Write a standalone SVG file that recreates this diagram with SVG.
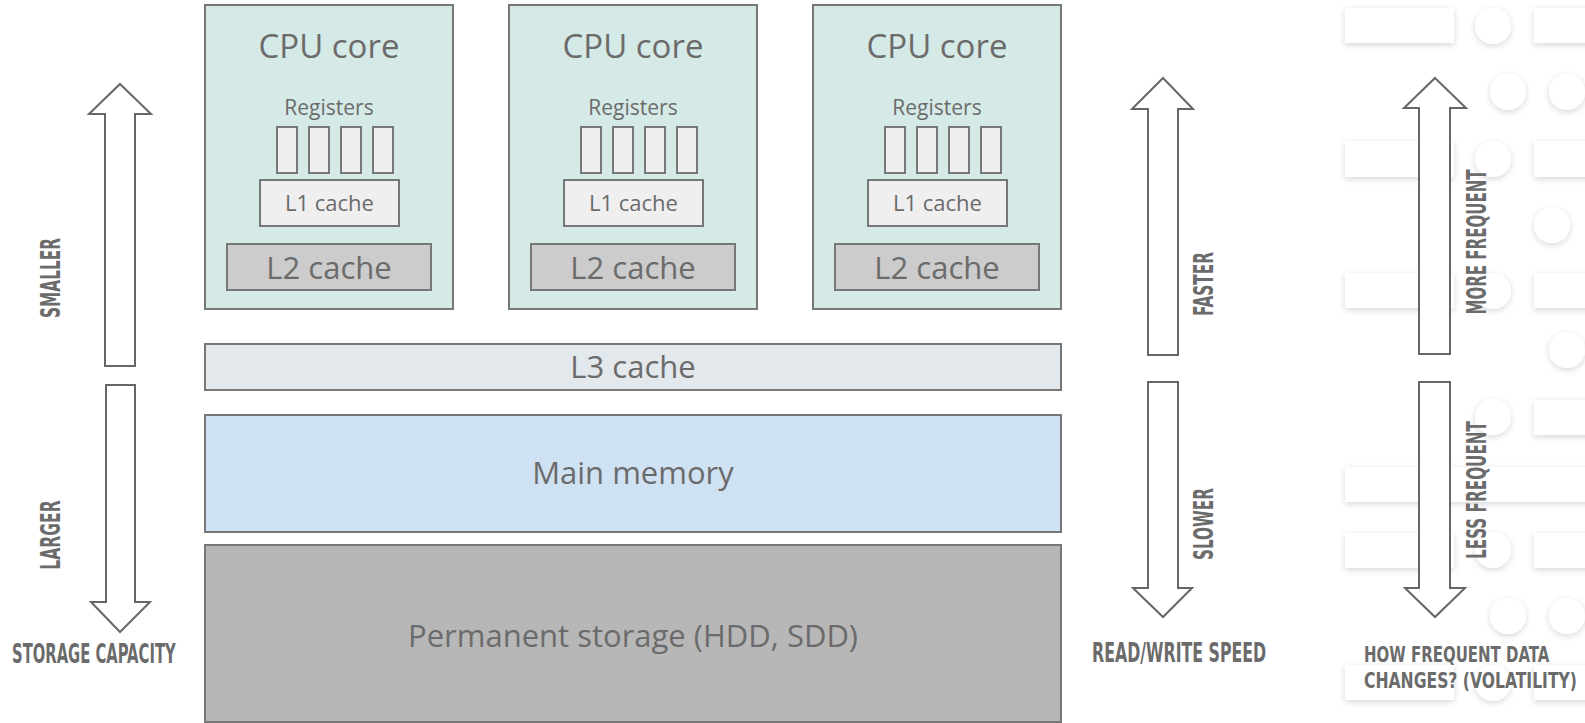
<svg xmlns="http://www.w3.org/2000/svg" width="1585" height="723" viewBox="0 0 1585 723">
  <defs>
    <filter id="soft" x="-30%" y="-60%" width="160%" height="220%">
      <feDropShadow dx="0" dy="2" stdDeviation="3" flood-color="#000" flood-opacity="0.16"/>
    </filter>
    <style>
      .bg { fill: #ffffff; }
      .deco rect, .deco circle { fill: #ffffff; filter: url(#soft); }
      .box { stroke: #777777; stroke-width: 2; }
      .core { fill: #d5e9e6; }
      .reg { fill: #eeeeee; stroke: #777777; stroke-width: 2; }
      .l1 { fill: #efefef; }
      .l2 { fill: #cccccc; }
      .l3 { fill: #e3e8ec; }
      .mem { fill: #cfe2f3; }
      .disk { fill: #b7b7b7; }
      .t { font-family: "Open Sans", "Noto Sans", sans-serif; fill: #6b6b6b; text-anchor: middle; }
      .big { font-size: 33px; }
      .mid { font-size: 31px; }
      .sm { font-size: 21px; }
      .arrow { fill: #ffffff; stroke: #666666; stroke-width: 2; stroke-linejoin: miter; }
      .lab { font-family: "DejaVu Sans Condensed", "DejaVu Sans", sans-serif; font-stretch: condensed; font-weight: bold; font-size: 26px; fill: #6b6b6b; }
      .lab2 { font-size: 22px; }
    </style>
  </defs>

  <rect class="bg" x="0" y="0" width="1585" height="723"/>

  <!-- decorative pattern behind the volatility scale -->
  <g id="pattern" class="deco">
    <rect x="1345" y="8" width="109" height="35"/>
    <circle cx="1493" cy="26" r="18"/>
    <rect x="1534" y="8" width="60" height="35"/>

    <circle cx="1508" cy="92" r="18"/>
    <circle cx="1567" cy="92" r="18"/>

    <rect x="1345" y="141" width="109" height="36"/>
    <circle cx="1493" cy="159" r="18"/>
    <rect x="1534" y="141" width="60" height="36"/>

    <circle cx="1552" cy="225" r="18"/>

    <rect x="1345" y="273" width="109" height="35"/>
    <circle cx="1493" cy="291" r="18"/>
    <rect x="1534" y="273" width="60" height="35"/>

    <circle cx="1567" cy="350" r="18"/>

    <circle cx="1493" cy="417" r="18"/>
    <rect x="1534" y="400" width="60" height="35"/>

    <rect x="1345" y="467" width="250" height="35"/>

    <rect x="1345" y="533" width="109" height="35"/>
    <circle cx="1493" cy="550" r="18"/>
    <rect x="1534" y="533" width="60" height="35"/>

    <circle cx="1508" cy="616" r="18"/>
    <circle cx="1567" cy="616" r="18"/>

    <rect x="1345" y="665" width="109" height="35"/>
    <circle cx="1493" cy="683" r="18"/>
    <rect x="1534" y="665" width="60" height="35"/>

    <circle cx="1560" cy="752" r="18"/>
  </g>

  <!-- CPU cores -->
  <g id="core1">
    <rect class="box core" x="205" y="5" width="248" height="304"/>
    <text class="t big" x="329" y="58">CPU core</text>
    <text class="t sm" x="329" y="115">Registers</text>
    <rect class="reg" x="277" y="127" width="20" height="46"/>
    <rect class="reg" x="309" y="127" width="20" height="46"/>
    <rect class="reg" x="341" y="127" width="20" height="46"/>
    <rect class="reg" x="373" y="127" width="20" height="46"/>
    <rect class="box l1" x="260" y="180" width="139" height="46"/>
    <text class="t sm" x="329.5" y="211" style="font-size:22px">L1 cache</text>
    <rect class="box l2" x="227" y="244" width="204" height="46"/>
    <text class="t mid" x="329" y="279">L2 cache</text>
  </g>

  <g id="core2" transform="translate(304,0)">
    <rect class="box core" x="205" y="5" width="248" height="304"/>
    <text class="t big" x="329" y="58">CPU core</text>
    <text class="t sm" x="329" y="115">Registers</text>
    <rect class="reg" x="277" y="127" width="20" height="46"/>
    <rect class="reg" x="309" y="127" width="20" height="46"/>
    <rect class="reg" x="341" y="127" width="20" height="46"/>
    <rect class="reg" x="373" y="127" width="20" height="46"/>
    <rect class="box l1" x="260" y="180" width="139" height="46"/>
    <text class="t sm" x="329.5" y="211" style="font-size:22px">L1 cache</text>
    <rect class="box l2" x="227" y="244" width="204" height="46"/>
    <text class="t mid" x="329" y="279">L2 cache</text>
  </g>

  <g id="core3" transform="translate(608,0)">
    <rect class="box core" x="205" y="5" width="248" height="304"/>
    <text class="t big" x="329" y="58">CPU core</text>
    <text class="t sm" x="329" y="115">Registers</text>
    <rect class="reg" x="277" y="127" width="20" height="46"/>
    <rect class="reg" x="309" y="127" width="20" height="46"/>
    <rect class="reg" x="341" y="127" width="20" height="46"/>
    <rect class="reg" x="373" y="127" width="20" height="46"/>
    <rect class="box l1" x="260" y="180" width="139" height="46"/>
    <text class="t sm" x="329.5" y="211" style="font-size:22px">L1 cache</text>
    <rect class="box l2" x="227" y="244" width="204" height="46"/>
    <text class="t mid" x="329" y="279">L2 cache</text>
  </g>

  <g id="l3">
    <rect class="box l3" x="205" y="344" width="856" height="46"/>
    <text class="t mid" x="633" y="378">L3 cache</text>
  </g>

  <g id="memory">
    <rect class="box mem" x="205" y="415" width="856" height="117"/>
    <text class="t mid" x="633" y="484">Main memory</text>
  </g>

  <g id="storage">
    <rect class="box disk" x="205" y="545" width="856" height="177"/>
    <text class="t mid" x="633" y="647">Permanent storage (HDD, SDD)</text>
  </g>

  <!-- scale arrows -->
  <g id="connectors">
    <path class="arrow" d="M120,84 L151,114 L135,114 L135,366 L105,366 L105,114 L89,114 Z"/>
    <path class="arrow" d="M106,385 L135,385 L135,602 L150,602 L120,632 L91,602 L106,602 Z"/>

    <path class="arrow" d="M1163,78 L1193,109 L1178,109 L1178,355 L1148,355 L1148,109 L1132,109 Z"/>
    <path class="arrow" d="M1148,382 L1178,382 L1178,588 L1192,588 L1163,617 L1133,588 L1148,588 Z"/>

    <path class="arrow" d="M1435,78 L1466,108 L1450,108 L1450,354 L1419,354 L1419,108 L1404,108 Z"/>
    <path class="arrow" d="M1419,382 L1450,382 L1450,588 L1465,588 L1435,617 L1405,588 L1419,588 Z"/>
  </g>

  <!-- scale labels: condensed caps, narrowed with a horizontal scale -->
  <g id="labels">
    <text class="lab" transform="translate(60,278) rotate(-90) scale(0.66,1)" text-anchor="middle" textLength="121" lengthAdjust="spacingAndGlyphs">SMALLER</text>
    <text class="lab" transform="translate(60,535) rotate(-90) scale(0.66,1)" text-anchor="middle" textLength="105" lengthAdjust="spacingAndGlyphs">LARGER</text>
    <text class="lab" transform="translate(12,663) scale(0.66,1)" textLength="248" lengthAdjust="spacingAndGlyphs">STORAGE CAPACITY</text>

    <text class="lab" transform="translate(1213,284) rotate(-90) scale(0.66,1)" text-anchor="middle" textLength="97" lengthAdjust="spacingAndGlyphs">FASTER</text>
    <text class="lab" transform="translate(1213,524) rotate(-90) scale(0.66,1)" text-anchor="middle" textLength="109" lengthAdjust="spacingAndGlyphs">SLOWER</text>
    <text class="lab" transform="translate(1092,662) scale(0.66,1)" textLength="264" lengthAdjust="spacingAndGlyphs">READ/WRITE SPEED</text>

    <text class="lab" transform="translate(1486,242) rotate(-90) scale(0.66,1)" text-anchor="middle" textLength="220" lengthAdjust="spacingAndGlyphs">MORE FREQUENT</text>
    <text class="lab" transform="translate(1486,490) rotate(-90) scale(0.66,1)" text-anchor="middle" textLength="209" lengthAdjust="spacingAndGlyphs">LESS FREQUENT</text>
    <text class="lab lab2" transform="translate(1364,662) scale(0.75,1)" textLength="247" lengthAdjust="spacingAndGlyphs">HOW FREQUENT DATA</text>
    <text class="lab lab2" transform="translate(1364,688) scale(0.75,1)" textLength="284" lengthAdjust="spacingAndGlyphs">CHANGES? (VOLATILITY)</text>
  </g>
</svg>
